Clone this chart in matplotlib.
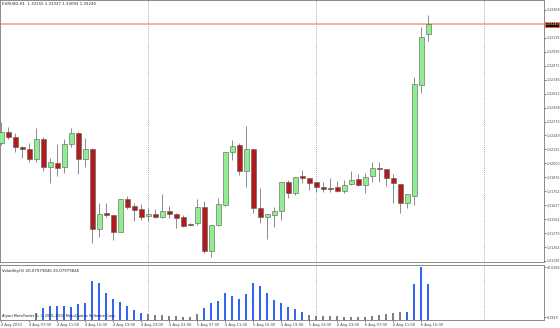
"""EURUSD H1 candlestick chart with a Volatility(5) histogram (MetaTrader style)."""
import numpy as np
import matplotlib
matplotlib.use("Agg")
import matplotlib.pyplot as plt

# Hourly bars, 4 Aug 2010 03:00 .. 6 Aug 2010 16:00
opens = [1.32182, 1.32280, 1.32236, 1.32146, 1.32129, 1.32039, 1.32218, 1.31968, 1.32004, 1.31968,
         1.32173, 1.32271, 1.32039, 1.32129, 1.31415, 1.31558, 1.31540, 1.31388, 1.31683, 1.31620,
         1.31594, 1.31531, 1.31549, 1.31522, 1.31576, 1.31549, 1.31522, 1.31460, 1.31469, 1.31611,
         1.31219, 1.31451, 1.31629, 1.32102, 1.32164, 1.31932, 1.32129, 1.31602, 1.31522, 1.31540,
         1.31576, 1.31834, 1.31736, 1.31888, 1.31870, 1.31834, 1.31790, 1.31781, 1.31790, 1.31754,
         1.31816, 1.31861, 1.31808, 1.31888, 1.31959, 1.31950, 1.31870, 1.31816, 1.31647, 1.31709,
         1.32699, 1.33155]
highs = [1.32369, 1.32325, 1.32271, 1.32155, 1.32182, 1.32316, 1.32236, 1.32048, 1.32173, 1.32218,
         1.32316, 1.32280, 1.32227, 1.32137, 1.31647, 1.31647, 1.31540, 1.31683, 1.31709, 1.31647,
         1.31638, 1.31602, 1.31594, 1.31727, 1.31620, 1.31558, 1.31540, 1.31469, 1.31683, 1.31665,
         1.31451, 1.31692, 1.32102, 1.32209, 1.32182, 1.32334, 1.32129, 1.31781, 1.31549, 1.31611,
         1.31834, 1.31852, 1.31879, 1.31941, 1.31870, 1.31834, 1.31834, 1.31870, 1.31843, 1.31852,
         1.31932, 1.31906, 1.31915, 1.32013, 1.32013, 1.31950, 1.31906, 1.31816, 1.31727, 1.32770,
         1.33216, 1.33327]
lows = [1.32164, 1.32218, 1.32102, 1.32048, 1.32013, 1.32013, 1.31932, 1.31825, 1.31888, 1.31915,
        1.32146, 1.31906, 1.31968, 1.31290, 1.31344, 1.31522, 1.31317, 1.31388, 1.31594, 1.31487,
        1.31495, 1.31487, 1.31513, 1.31513, 1.31513, 1.31424, 1.31433, 1.31442, 1.31451, 1.31201,
        1.31166, 1.31442, 1.31620, 1.32030, 1.31897, 1.31790, 1.31558, 1.31469, 1.31326, 1.31433,
        1.31495, 1.31692, 1.31718, 1.31825, 1.31763, 1.31745, 1.31745, 1.31745, 1.31745, 1.31736,
        1.31808, 1.31799, 1.31736, 1.31834, 1.31834, 1.31799, 1.31647, 1.31558, 1.31602, 1.31629,
        1.32628, 1.33093]
closes = [1.32280, 1.32236, 1.32146, 1.32129, 1.32039, 1.32218, 1.31968, 1.32013, 1.31959, 1.32173,
          1.32271, 1.32039, 1.32129, 1.31415, 1.31549, 1.31540, 1.31388, 1.31683, 1.31611, 1.31585,
          1.31522, 1.31549, 1.31522, 1.31576, 1.31549, 1.31513, 1.31442, 1.31451, 1.31611, 1.31219,
          1.31451, 1.31638, 1.32102, 1.32155, 1.31932, 1.32129, 1.31602, 1.31522, 1.31549, 1.31576,
          1.31834, 1.31736, 1.31879, 1.31870, 1.31825, 1.31790, 1.31772, 1.31772, 1.31754, 1.31808,
          1.31852, 1.31808, 1.31879, 1.31959, 1.31950, 1.31870, 1.31825, 1.31647, 1.31727, 1.32708,
          1.33127, 1.33240]

# Volatility(5) histogram, first five bars have no value
volatility = [np.nan] * 5 + [
    3.5, 7.4, 9.0, 9.0, 9.0, 8.2, 10.6, 11.4,
    28.9, 27.3, 19.4, 14.6, 12.2, 9.0, 5.9, 3.5,
    2.7, 1.9, 1.9, 1.1, 1.1, 0.3, 0.3, 2.7,
    7.4, 11.4, 13.0, 19.4, 17.0, 14.6, 18.6, 27.3,
    24.9, 19.4, 13.8, 11.4, 8.2, 6.6, 4.3, 1.9,
    1.1, 0.8, 0.8, 0.8, 0.3, 0.3, 0.3, 0.3,
    1.1, 1.9, 2.7, 3.5, 4.3, 4.3, 26.5, 40.0, 26.5]
# 1 = blue bar, 0 = grey bar
vol_active = [0] * 5 + [0] + [1] * 15 + [0] * 8 + [1] * 15 + [0] * 14 + [1] * 4

price_ticks = [1.33368, 1.33119, 1.32995, 1.32871, 1.32746, 1.32622, 1.32498, 1.32373,
               1.32249, 1.32125, 1.32000, 1.31876, 1.31752, 1.31627, 1.31503, 1.31379,
               1.31254, 1.31130]
vol_ticks = [0.2929, 40.0186]

time_tick_bars = list(range(0, 61, 4))
time_labels = ["4 Aug 2010", "4 Aug 07:00", "4 Aug 11:00", "4 Aug 15:00", "4 Aug 19:00",
               "4 Aug 23:00", "5 Aug 03:00", "5 Aug 07:00", "5 Aug 11:00", "5 Aug 15:00",
               "5 Aug 19:00", "5 Aug 23:00", "6 Aug 03:00", "6 Aug 07:00", "6 Aug 11:00",
               "6 Aug 15:00"]
day_breaks = [21, 45, 69]

symbol_title = "EURUSD,H1  1.33155 1.33327 1.33093 1.33240"
indicator_title = "Volatility(5) 20.07979846 20.07979846"
copyright_text = "Alpari MetaTrader 4, \u00a9 2001-2010 MetaQuotes Software Corp."
current_price = closes[-1]

FS = 2.6
YFS = 2.3
EDGE = "#5a5a5a"

fig = plt.figure(figsize=(5.6, 3.28), dpi=100)
fig.patch.set_facecolor("white")
ax = fig.add_axes([0.0, 66 / 328, 544 / 560, 262 / 328])
ax_vol = fig.add_axes([0.0, 8 / 328, 544 / 560, 55 / 328])

x = np.arange(len(opens))
o = np.array(opens)
c = np.array(closes)
h = np.array(highs)
l = np.array(lows)
up = c >= o

# wicks then bodies
ax.vlines(x, l, h, color="#7a7a7a", linewidth=0.6, zorder=2)
body_low = np.minimum(o, c)
body_h = np.maximum(np.abs(c - o), 0.000015)
ax.bar(x[up], body_h[up], bottom=body_low[up], width=0.7, color="#90ee90",
       edgecolor=EDGE, linewidth=0.4, zorder=3)
ax.bar(x[~up], body_h[~up], bottom=body_low[~up], width=0.7, color="#b01c1c",
       edgecolor=EDGE, linewidth=0.4, zorder=3)

ax.axhline(current_price, color="#f7a99c", linewidth=1.3, zorder=1)
for d in day_breaks:
    ax.axvline(d, color="#8a8a8a", linestyle=(0, (1, 1.5)), linewidth=0.6, zorder=0)
    ax_vol.axvline(d, color="#8a8a8a", linestyle=(0, (1, 1.5)), linewidth=0.6, zorder=0)

xlim = (-0.15, 77.55)
ax.set_xlim(*xlim)
ax.set_ylim(1.31121, 1.33457)
ax.set_xticks([])
ax.yaxis.tick_right()
ax.set_yticks(price_ticks)
ax.set_yticklabels([f"{v:.5f}" for v in price_ticks])
ax.tick_params(axis="y", labelsize=YFS, length=1.2, width=0.5, pad=0.5, colors="#444444")
for s in ax.spines.values():
    s.set_color("#8a8a8a")
    s.set_linewidth(0.7)
ax.text(0.004, 0.992, symbol_title, transform=ax.transAxes, fontsize=FS + 0.2,
        va="top", ha="left", color="#222222")
ax.annotate(f"{current_price:.5f}", xy=(1.0, current_price), xycoords=("axes fraction", "data"),
            xytext=(1.0, 0), textcoords="offset points", fontsize=YFS, color="white",
            va="center", ha="left", annotation_clip=False,
            bbox=dict(boxstyle="square,pad=0.15", facecolor="#111111", edgecolor="#ff5a2a",
                      linewidth=0.6))

# volatility panel
vol = np.array(volatility, dtype=float)
act = np.array(vol_active, dtype=bool)
vmin = -2.09
ax_vol.bar(x[act], vol[act] - vmin, bottom=vmin, width=0.32, color="#3366ee", zorder=2)
ax_vol.bar(x[~act], vol[~act] - vmin, bottom=vmin, width=0.32, color="#7f7f7f", zorder=2)
ax_vol.set_xlim(*xlim)
ax_vol.set_ylim(vmin, 41.61)
ax_vol.yaxis.tick_right()
ax_vol.set_yticks(vol_ticks)
ax_vol.set_yticklabels(["0.2929", "40.0186"])
ax_vol.tick_params(axis="y", labelsize=YFS, length=1.2, width=0.5, pad=0.5, colors="#444444")
ax_vol.set_xticks(time_tick_bars)
ax_vol.set_xticklabels(time_labels, ha="left")
ax_vol.tick_params(axis="x", labelsize=FS, length=1.5, width=0.5, pad=0.5, colors="#444444")
for s in ax_vol.spines.values():
    s.set_color("#8a8a8a")
    s.set_linewidth(0.7)
ax_vol.text(0.004, 0.93, indicator_title, transform=ax_vol.transAxes, fontsize=FS + 0.2,
            va="top", ha="left", color="#222222")
ax_vol.text(0.004, 0.03, copyright_text, transform=ax_vol.transAxes, fontsize=FS,
            va="bottom", ha="left", color="#222222", zorder=4)

fig.savefig("out.png", dpi=100, facecolor="white")
plt.close(fig)
